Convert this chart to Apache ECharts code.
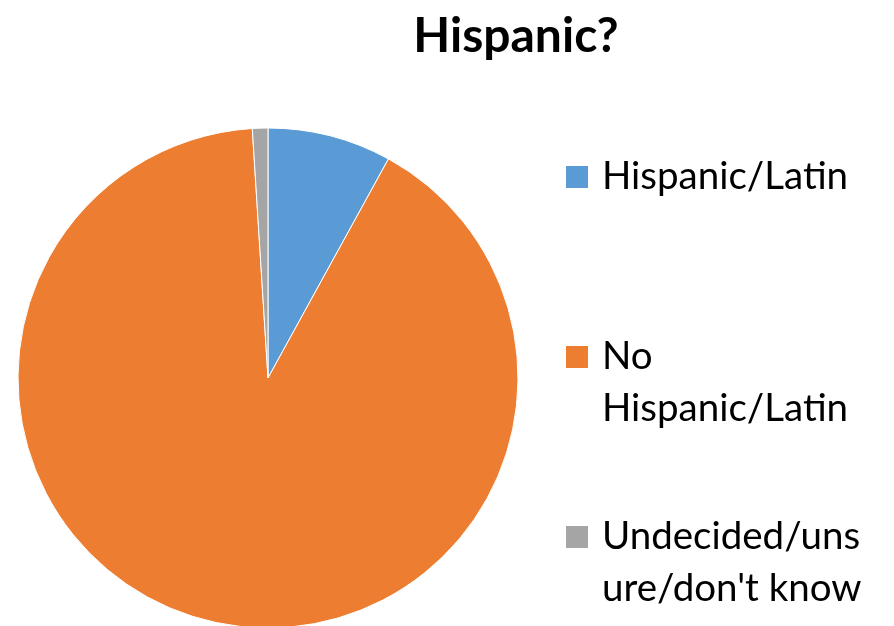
<!DOCTYPE html>
<html>
<head>
<meta charset="utf-8">
<script src="https://cdn.jsdelivr.net/npm/echarts@6/dist/echarts.min.js"></script>
<style>html,body{margin:0;padding:0;background:#fff}#c{width:894px;height:626px}</style>
</head>
<body>
<div id="c"></div>
<script>
const title = 'Hispanic?';
const categories = ['Hispanic/Latin', 'No Hispanic/Latin', 'Undecided/unsure/don\'t know'];
const legendLabels = ['Hispanic/Latin', 'No\nHispanic/Latin', 'Undecided/uns\nure/don\'t know'];
const values = [8, 91, 1];
const colors = ['#5B9BD5', '#ED7D31', '#A5A5A5'];

const FONT = 'Lato';
const chart = echarts.init(document.getElementById('c'), null, {renderer: 'canvas'});

const legendTops = [151, 279, 459];
const legends = categories.map((name, i) => {
  const multi = legendLabels[i].indexOf('\n') >= 0;
  return {
    orient: 'vertical',
    left: 564,
    top: legendTops[i],
    padding: 0,
    itemWidth: 24,
    itemHeight: 24,
    icon: 'rect',
    selectedMode: false,
    data: [name],
    // leading empty line keeps the first text line level with the marker
    formatter: () => (multi ? '\n' : '') + legendLabels[i],
    textStyle: {
      fontFamily: FONT,
      fontSize: 38.5,
      color: '#000',
      lineHeight: 52,
      padding: [0, 0, 0, 8]
    }
  };
});

chart.setOption({
  animation: false,
  color: colors,
  title: {
    text: title,
    left: 511,
    textAlign: 'center',
    top: 8,
    textStyle: {fontFamily: FONT, fontWeight: 'bold', fontSize: 48, color: '#000'}
  },
  legend: legends,
  series: [{
    type: 'pie',
    center: [268, 378],
    radius: 250,
    startAngle: 90,
    clockwise: true,
    label: {show: false},
    labelLine: {show: false},
    itemStyle: {borderColor: '#fff', borderWidth: 1},
    data: categories.map((n, i) => ({name: n, value: values[i]}))
  }]
});
</script>
</body>
</html>
